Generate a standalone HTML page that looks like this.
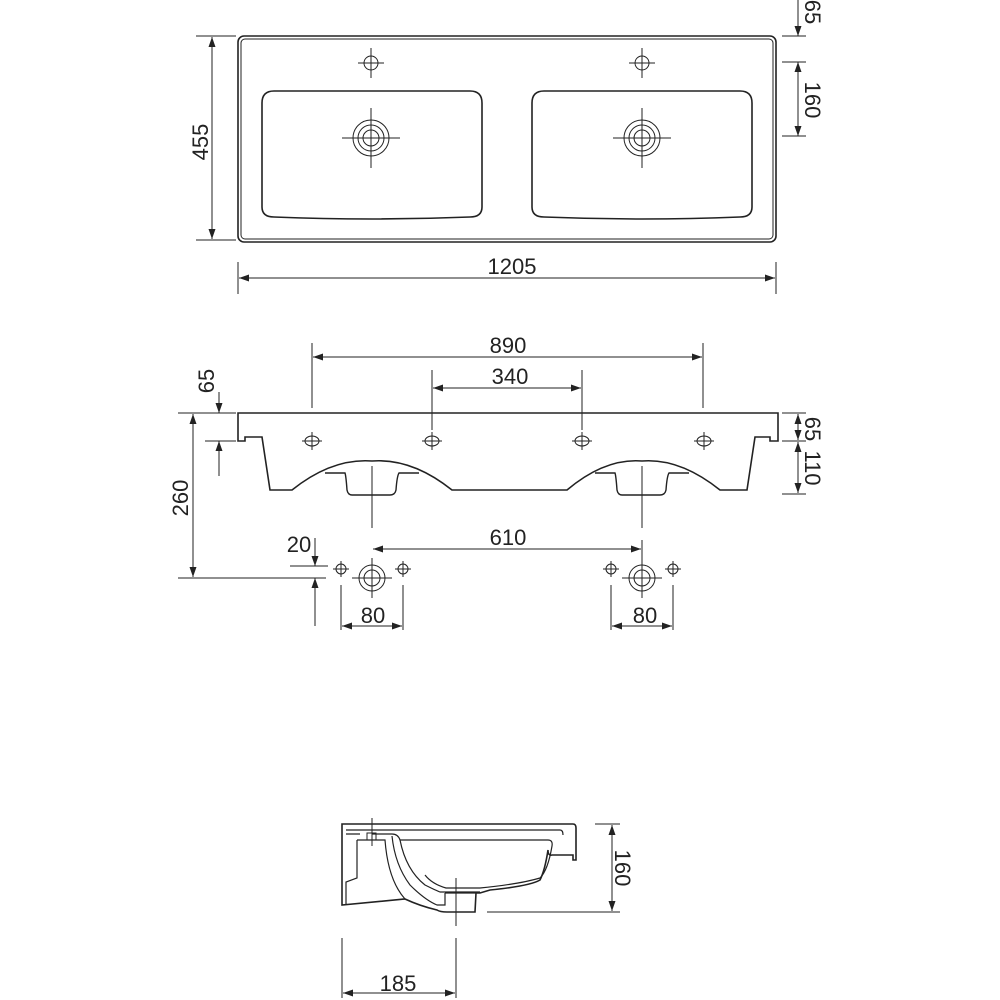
<!DOCTYPE html>
<html><head><meta charset="utf-8"><style>
html,body{margin:0;padding:0;background:#fff}
svg{display:block}
text{font-family:"Liberation Sans",sans-serif;font-size:22px;fill:#222}
</style></head><body>
<svg width="1000" height="1000" viewBox="0 0 1000 1000" xmlns="http://www.w3.org/2000/svg">
<defs>
<marker id="a" viewBox="0 0 10 10" refX="10" refY="5" markerWidth="10" markerHeight="10" markerUnits="userSpaceOnUse" orient="auto-start-reverse"><path d="M0,1.5 L10,5 L0,8.5 z" fill="#222"/></marker>
</defs>
<g stroke="#222" fill="none" stroke-width="1.6">
<rect x="238" y="36" width="538" height="206" rx="6"/>
<rect x="241" y="39" width="532" height="200" rx="4" stroke-width="1"/>
<path d="M274,91 H470 Q482,91 482,103 V207 Q482,217 470,217 Q372,221 274,217 Q262,217 262,207 V103 Q262,91 274,91 Z"/>
<path d="M544,91 H740 Q752,91 752,103 V207 Q752,217 740,217 Q642,221 544,217 Q532,217 532,207 V103 Q532,91 544,91 Z"/>
<g stroke-width="1">
<circle cx="371" cy="63" r="7"/><path d="M358,63H384M371,48V78"/>
<circle cx="642" cy="63" r="7"/><path d="M629,63H655M642,48V78"/>
<circle cx="371" cy="138" r="18"/><circle cx="371" cy="138" r="13"/><circle cx="371" cy="138" r="8"/><path d="M342,138H400M371,108V168"/>
<circle cx="642" cy="138" r="18"/><circle cx="642" cy="138" r="13"/><circle cx="642" cy="138" r="8"/><path d="M613,138H671M642,108V168"/>
<path d="M196,36H236M196,240H236"/>
<path d="M212,37V239" marker-start="url(#a)" marker-end="url(#a)"/>
<path d="M782,36H806M782,62H806M782,136H806"/>
<path d="M798,0V36" marker-end="url(#a)"/>
<path d="M798,62V136" marker-start="url(#a)" marker-end="url(#a)"/>
<path d="M238,262V294M776,262V294"/>
<path d="M239,278H775" marker-start="url(#a)" marker-end="url(#a)"/>
</g>
<path d="M238,413 H778 V441 L770,441 V437 L755,437 L747,490 H720 Q680,458 642,461 Q605,458 567,490 H452 Q412,458 372,461 Q332,458 292,490 H270 L262,437 H245 V441 H238 Z"/>
<path d="M325,473 H345 Q346,476 347,490 Q348,495 352,495 H390 Q395,495 396,490 Q397,476 399,473 H419" stroke-width="1.4"/>
<path d="M595,473 H615 Q616,476 617,490 Q618,495 622,495 H660 Q665,495 666,490 Q667,476 669,473 H689" stroke-width="1.4"/>
<g stroke-width="1">
<ellipse cx="312" cy="441" rx="7" ry="5"/><path d="M302,441H322M312,432V450"/>
<ellipse cx="432" cy="441" rx="7" ry="5"/><path d="M422,441H442M432,432V450"/>
<ellipse cx="582" cy="441" rx="7" ry="5"/><path d="M572,441H592M582,432V450"/>
<ellipse cx="704" cy="441" rx="7" ry="5"/><path d="M694,441H714M704,432V450"/>
<path d="M372,466V528M642,466V528"/>
<path d="M312,343V408M703,343V408"/>
<path d="M313,357H702" marker-start="url(#a)" marker-end="url(#a)"/>
<path d="M432,370V430M582,370V430"/>
<path d="M433,388H581" marker-start="url(#a)" marker-end="url(#a)"/>
<path d="M178,413H236M205,441H236"/>
<path d="M219,392V413" marker-end="url(#a)"/>
<path d="M219,476V441" marker-end="url(#a)"/>
<path d="M193,414V577" marker-start="url(#a)" marker-end="url(#a)"/>
<path d="M178,578H326M290,566H328"/>
<path d="M315,538V566" marker-end="url(#a)"/>
<path d="M315,626V578" marker-end="url(#a)"/>
<path d="M782,413H806M782,441H806M782,494H806"/>
<path d="M798,414V440" marker-start="url(#a)" marker-end="url(#a)"/>
<path d="M798,442V493" marker-start="url(#a)" marker-end="url(#a)"/>
<path d="M373,549H641" marker-start="url(#a)" marker-end="url(#a)"/>
<path d="M642,540V560"/>
<circle cx="372" cy="578" r="13"/><circle cx="372" cy="578" r="8"/><path d="M352,578H392M372,558V598"/>
<circle cx="341" cy="569" r="5"/><path d="M333,569H349M341,561V577"/>
<circle cx="403" cy="569" r="5"/><path d="M395,569H411M403,561V577"/>
<circle cx="642" cy="578" r="13"/><circle cx="642" cy="578" r="8"/><path d="M622,578H662M642,558V598"/>
<circle cx="611" cy="569" r="5"/><path d="M603,569H619M611,561V577"/>
<circle cx="673" cy="569" r="5"/><path d="M665,569H681M673,561V577"/>
<path d="M341,585V630M403,585V630M611,585V630M673,585V630"/>
<path d="M342,626H402" marker-start="url(#a)" marker-end="url(#a)"/>
<path d="M612,626H672" marker-start="url(#a)" marker-end="url(#a)"/>
</g>
<path d="M342,824 H573 Q576,824 576,828 V860 H573 V855 H552 Q548,856 548,850 Q545,870 540,880 Q530,886 490,890 L480,893 H476 L475,912 H447 Q440,912 437,910 Q420,906 405,899 L342,905 Z"/>
<path d="M346,830 H560 Q563,830 563,835" stroke-width="1.2"/>
<path d="M346,834 H360 M372,834 H392 Q398,834 400,840 Q406,870 425,885 Q435,890 440,892 H480" stroke-width="1.2"/>
<path d="M400,840 H548 Q553,840 552,846 Q548,870 540,878 Q520,884 480,888 H446 Q432,884 425,875" stroke-width="1.2"/>
<path d="M392,836 Q395,865 410,885 Q425,900 437,905 H445 V893" stroke-width="1.2"/>
<path d="M357,840 H385 Q388,880 405,899 M357,840 V878 L346,882 V905" stroke-width="1.2"/>
<path d="M445,893 H476" stroke-width="1.2"/>
<g stroke-width="1">
<rect x="367" y="833" width="9" height="7"/>
<path d="M372,818V846M456,878V926"/>
<path d="M595,824H620M487,912H620"/>
<path d="M612,825V911" marker-start="url(#a)" marker-end="url(#a)"/>
<path d="M342,938V998M456,938V998"/>
<path d="M343,993H455" marker-start="url(#a)" marker-end="url(#a)"/>
</g>
</g>
<text x="512" y="274" text-anchor="middle">1205</text>
<text transform="translate(208,142) rotate(-90)" text-anchor="middle">455</text>
<text transform="translate(805,12) rotate(90)" text-anchor="middle">65</text>
<text transform="translate(805,100) rotate(90)" text-anchor="middle">160</text>
<text x="508" y="353" text-anchor="middle">890</text>
<text x="510" y="384" text-anchor="middle">340</text>
<text transform="translate(214,381) rotate(-90)" text-anchor="middle">65</text>
<text transform="translate(188,498) rotate(-90)" text-anchor="middle">260</text>
<text transform="translate(805,429) rotate(90)" text-anchor="middle">65</text>
<text transform="translate(805,468) rotate(90)" text-anchor="middle">110</text>
<text x="299" y="552" text-anchor="middle">20</text>
<text x="508" y="545" text-anchor="middle">610</text>
<text x="373" y="623" text-anchor="middle">80</text>
<text x="645" y="623" text-anchor="middle">80</text>
<text transform="translate(615,868) rotate(90)" text-anchor="middle">160</text>
<text x="398" y="991" text-anchor="middle">185</text>
</svg>
</body></html>
